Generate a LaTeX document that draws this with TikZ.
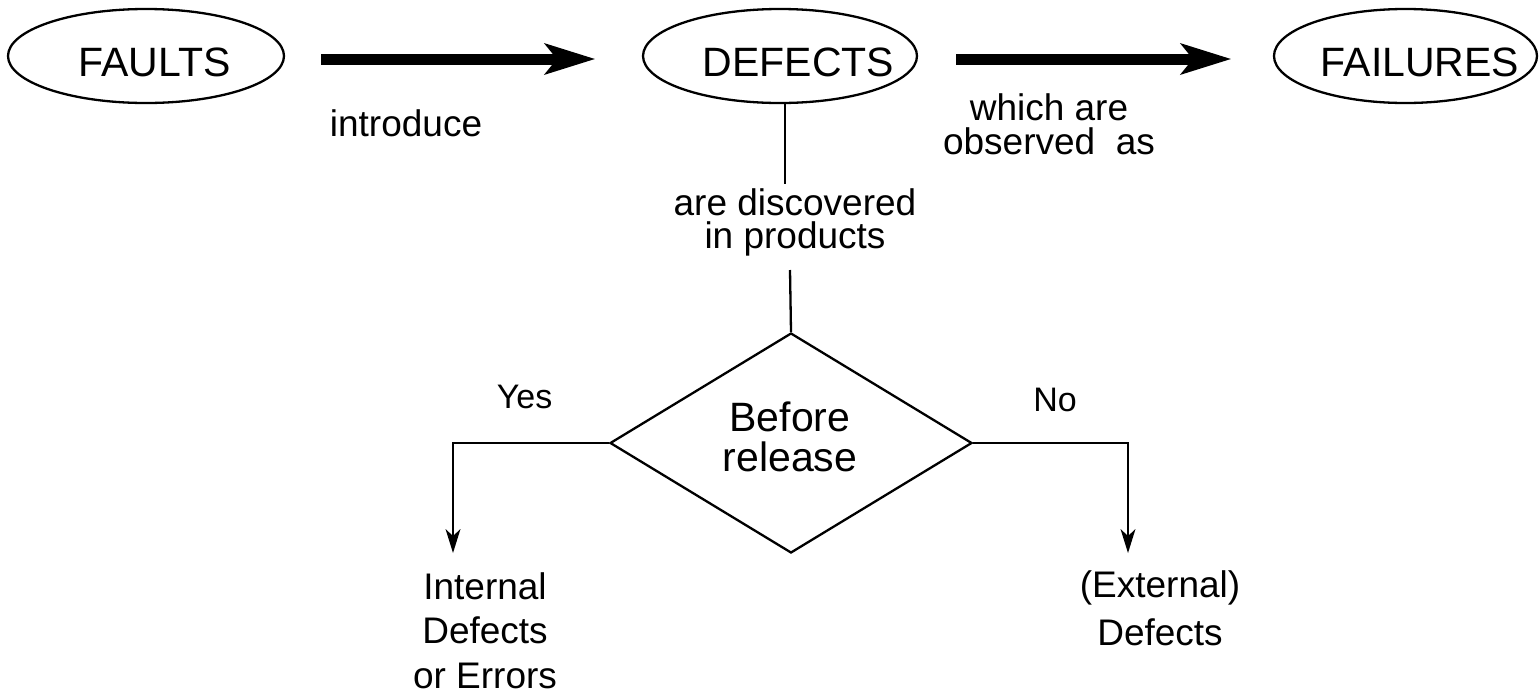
\documentclass[tikz,border=0pt]{standalone}
\usepackage{fontspec}
\setmainfont{Liberation Sans}
\usetikzlibrary{shapes.geometric,arrows.meta,calc}
\begin{document}
\begin{tikzpicture}[x=1pt,y=-1pt,
  ell/.style={draw,ellipse,line width=2.3pt,minimum width=#1,minimum height=94pt,inner sep=0pt},
  bigtext/.style={font=\fontsize{41}{48}\selectfont,anchor=base,inner sep=0pt},
  lbl/.style={font=\fontsize{37}{#1}\selectfont,align=center,anchor=base,inner sep=0pt},
  lbl/.default=34,
  yn/.style={font=\fontsize{34}{40}\selectfont,anchor=base,inner sep=0pt},
  bigarrow/.style={line width=11pt,-{Stealth[length=51pt,width=32pt,inset=13pt,line width=0pt]}},
  thin/.style={line width=2.3pt},
  thinarrow/.style={line width=2.3pt,-{Stealth[length=24pt,width=15pt,inset=7pt,line width=0pt]}},
  decision/.style={draw,diamond,line width=2.3pt,minimum width=362pt,minimum height=220pt,inner sep=0pt},
  dectext/.style={font=\fontsize{41}{40}\selectfont,align=center,anchor=base,inner sep=0pt}
]
\useasboundingbox (0,0) rectangle (1539,694);

% top row
\node[ell=276pt] (faults) at (146,56) {};
\node[bigtext] (faultsT) at (154.5,76) {FAULTS};
\node[ell=274pt] (defects) at (780,56) {};
\node[bigtext] (defectsT) at (798.5,76) {DEFECTS};
\node[ell=263pt] (failures) at (1405.5,56) {};
\node[bigtext] (failuresT) at (1420,76) {FAILURES};

\draw[bigarrow] ([xshift=36pt,yshift=-3pt]faults.east) -- ([xshift=-47pt,yshift=-3pt]defects.west);
\draw[bigarrow] ([xshift=38pt,yshift=-3pt]defects.east) -- ([xshift=-42pt,yshift=-3pt]failures.west);

\node[lbl] (introduce) at (406,136) {introduce};
\node[lbl] (observed) at (1049,154) {which are\\observed\ \ as};

% vertical
\coordinate (d1) at (785,184);
\draw[thin] (defects.south -| d1) -- (d1);
\node[lbl=33] (discovered) at (795,248) {are discovered\\in products};
\node[decision] (before) at (791,443) {};
\node[dectext] (beforeT) at (790,471) {Before\\release};
\coordinate (d2) at (790,270);
\draw[thin] (d2) -- (before.north);

% branches
\coordinate (yesT) at (453,553);
\coordinate (noT) at (1128,553);
\draw[thinarrow] (before.west) -| (yesT);
\draw[thinarrow] (before.east) -| (noT);
\node[yn] (yes) at (524.5,408) {Yes};
\node[yn] (no) at (1055,411) {No};

\node[lbl=44.5] (internal) at (485,688) {Internal\\Defects\\or Errors};
\node[lbl=48] (external) at (1160,645) {(External)\\Defects};
\end{tikzpicture}
\end{document}
